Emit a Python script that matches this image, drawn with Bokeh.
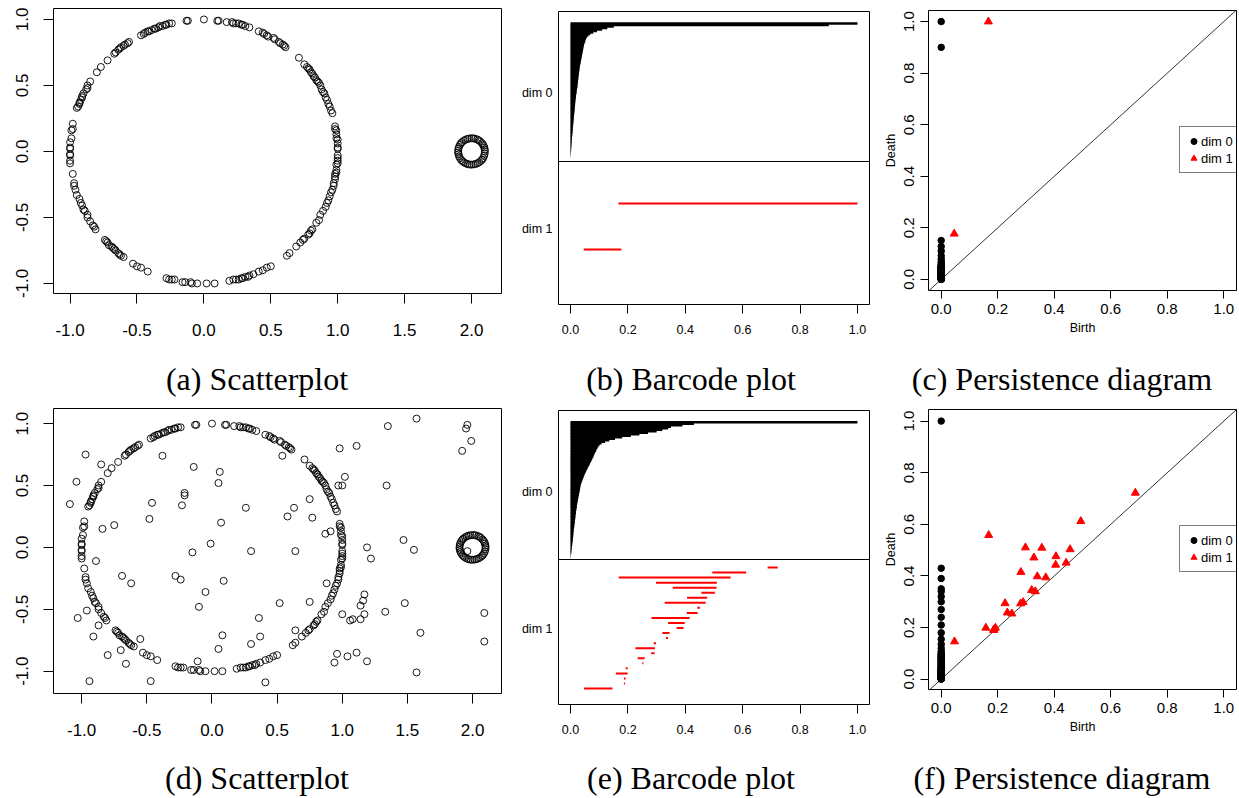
import numpy as np
from bokeh.plotting import figure
from bokeh.models import (Range1d, FixedTicker, PrintfTickFormatter, Span, Slope,
                          Legend, LegendItem)
from bokeh.layouts import column, row
from bokeh.embed import file_html
from bokeh.resources import INLINE
from bokeh.core.properties import value

# ---------------- data ----------------
# points of the large circle (shared by panels a and d)
CIRCLE_X = [0.10, 0.11, 0.17, 0.21, 0.22, 0.24, 0.26, 0.28, 0.29, 0.31, 0.34, 0.41, 0.44, 0.45, 0.47, 0.48,
            0.52, 0.53, 0.56, 0.57, 0.59, 0.60, 0.61, 0.71,
            0.75, 0.77, 0.78, 0.79, 0.80, 0.81, 0.82, 0.83, 0.84, 0.85, 0.86, 0.87, 0.88, 0.89, 0.90, 0.91,
            0.92, 0.93, 0.94, 0.95, 0.96, 0.98, 0.98, 0.99, 0.99, 0.99, 1.00, 1.00, 1.00, 1.00,
            1.00, 1.00, 1.00, 1.00, 0.99, 0.99, 0.99, 0.98, 0.98, 0.98, 0.97, 0.97, 0.96, 0.95, 0.94, 0.93,
            0.92, 0.91, 0.89, 0.87, 0.86, 0.84,
            0.81, 0.80, 0.79, 0.78, 0.75, 0.74, 0.72, 0.69, 0.64, 0.62,
            0.50, 0.47, 0.44, 0.41, 0.37, 0.34, 0.33, 0.31, 0.29, 0.28, 0.26, 0.24, 0.22, 0.19,
            0.08, 0.02,
            -0.05, -0.09, -0.10, -0.14, -0.16, -0.22, -0.24, -0.26, -0.28,
            -0.42, -0.47, -0.50, -0.53,
            -0.60, -0.62, -0.63, -0.64, -0.66, -0.67, -0.68, -0.69, -0.71, -0.72, -0.73, -0.74,
            -0.81, -0.82, -0.83, -0.85, -0.87, -0.87, -0.89, -0.90, -0.91, -0.92, -0.93, -0.95, -0.96, -0.97,
            -0.97, -0.98,
            -1.00, -1.00, -1.00, -1.00, -1.00, -1.00, -1.00, -0.99, -0.99, -0.98, -0.98,
            -0.95, -0.94, -0.93, -0.93, -0.92, -0.91, -0.91, -0.90, -0.88, -0.87, -0.87, -0.85,
            -0.80, -0.77, -0.72,
            -0.67, -0.66, -0.64, -0.63, -0.62, -0.60, -0.59, -0.57, -0.56,
            -0.47, -0.45, -0.44, -0.42, -0.41, -0.39, -0.37, -0.36, -0.34, -0.33, -0.31, -0.29, -0.28, -0.26,
            -0.24,
            -0.12, -0.13, 0.00]
CIRCLE_Y = [0.99, 0.99, 0.98, 0.98, 0.97, 0.97, 0.97, 0.96, 0.96, 0.95, 0.94, 0.91, 0.90, 0.89, 0.88, 0.87,
            0.86, 0.85, 0.83, 0.82, 0.81, 0.80, 0.79, 0.71,
            0.66, 0.64, 0.63, 0.62, 0.60, 0.59, 0.57, 0.56, 0.54, 0.53, 0.52, 0.50, 0.47, 0.45, 0.44, 0.41,
            0.39, 0.36, 0.34, 0.31, 0.29, 0.19, 0.17, 0.16, 0.13, 0.10, 0.09, 0.06, 0.03, 0.02,
            -0.03, -0.05, -0.07, -0.09, -0.10, -0.14, -0.16, -0.17, -0.19, -0.21, -0.24, -0.26, -0.29, -0.31,
            -0.34, -0.37, -0.39, -0.42, -0.45, -0.48, -0.52, -0.54,
            -0.59, -0.60, -0.62, -0.63, -0.66, -0.67, -0.69, -0.72, -0.77, -0.79,
            -0.87, -0.88, -0.90, -0.91, -0.93, -0.94, -0.95, -0.95, -0.96, -0.96, -0.97, -0.97, -0.97, -0.98,
            -1.00, -1.00,
            -1.00, -1.00, -0.99, -0.99, -0.99, -0.97, -0.97, -0.97, -0.96,
            -0.91, -0.88, -0.87, -0.85,
            -0.80, -0.79, -0.78, -0.77, -0.75, -0.74, -0.73, -0.72, -0.71, -0.69, -0.68, -0.67,
            -0.59, -0.57, -0.56, -0.53, -0.50, -0.48, -0.45, -0.44, -0.41, -0.39, -0.36, -0.33, -0.29, -0.26,
            -0.24, -0.17,
            -0.09, -0.07, -0.03, -0.02, 0.02, 0.03, 0.07, 0.10, 0.16, 0.17, 0.21,
            0.33, 0.34, 0.36, 0.37, 0.39, 0.41, 0.42, 0.44, 0.47, 0.48, 0.50, 0.53,
            0.60, 0.64, 0.69,
            0.74, 0.75, 0.77, 0.78, 0.79, 0.80, 0.81, 0.82, 0.83,
            0.88, 0.89, 0.90, 0.91, 0.91, 0.92, 0.93, 0.93, 0.94, 0.95, 0.95, 0.96, 0.96, 0.97,
            0.97,
            0.99, 0.99, 1.00]

# points of the small circle around (2, 0)
RING_X = [2.100, 2.099, 2.096, 2.091, 2.084, 2.077, 2.064, 2.053, 2.042, 2.026, 2.014, 2.000, 1.983, 1.969,
          1.955, 1.943, 1.929, 1.921, 1.913, 1.906, 1.902, 1.900, 1.900, 1.903, 1.907, 1.913, 1.923, 1.933,
          1.944, 1.958, 1.971, 1.986, 2.000, 2.017, 2.031, 2.045, 2.057, 2.071, 2.079, 2.087, 2.094, 2.098]
RING_Y = [0.000, 0.014, 0.029, 0.042, 0.054, 0.064, 0.077, 0.085, 0.091, 0.097, 0.099, 0.100, 0.098, 0.095,
          0.089, 0.082, 0.071, 0.062, 0.050, 0.034, 0.021, 0.005, -0.009, -0.022, -0.037, -0.050, -0.064,
          -0.074, -0.083, -0.091, -0.096, -0.099, -0.100, -0.098, -0.095, -0.089, -0.082, -0.071, -0.062,
          -0.050, -0.034, -0.017]

# scattered noise points added in panel d
NOISE_X = [-1.09, -1.04, -0.97, -0.85, -0.84, -0.75, -0.89, -0.69, -0.62, -1.03, -0.96, -0.87, -0.91, -0.80,
           -0.70, -0.66, -0.55, -0.94, -0.47, -0.46, -0.48, -0.38, -0.23, -0.21, -0.21, -0.14, -0.15, -0.28,
           -0.24, -0.05, -0.10, -0.01, -0.11, 0.06, 0.05, 0.07, 0.09, 0.08, 0.05, 0.26, 0.30, 0.30, 0.37,
           0.36, 0.41, 0.52, 0.54, 0.58, 0.63, 0.64, 0.64, 0.75, 0.77, 0.75, 0.87, 0.91, 0.88, 0.98, 0.97,
           1.00, 1.02, 1.00, 0.96, 0.94, 1.04, 1.11, 1.06, 1.08, 1.14, 1.11, 1.19, 1.22, 1.14, 1.16, 1.17,
           1.17, 1.19, 1.35, 1.34, 1.33, 1.47, 1.55, 1.48, 1.60, 1.57, 1.57, 1.92, 1.95, 1.96, 1.99, 1.96,
           2.09, 2.09]
NOISE_Y = [0.35, 0.53, 0.75, 0.67, 0.15, 0.18, -0.11, -0.23, -0.29, -0.57, -0.51, -0.63, -0.72, -0.87,
           -0.83, -0.94, -0.74, -1.08, -1.08, 0.36, 0.23, 0.74, 0.34, 0.44, 0.42, 0.65, -0.04, -0.23,
           -0.26, -0.36, -0.48, 0.03, -0.92, 0.61, 0.52, 0.20, -0.27, -0.71, -0.82, 0.32, -0.03, -0.78, -0.72,
           -0.57, -1.09, -0.45, 0.74, 0.25, 0.32, -0.03, -0.67, 0.39, 0.24, -0.44, 0.11, 0.13, -0.29, 0.80, 0.50,
           0.50, 0.57, -0.54, -0.86, -0.93, -0.88, 0.82, -0.59, -0.58, -0.58, -0.85, 0.00, -0.09, -0.47, -0.43,
           -0.38, -0.54, -0.92, 0.98, 0.50, -0.52, 0.06, -0.02, -0.45, -0.69, 1.04, -1.01, 0.78, 0.96, 0.99,
           0.86, -0.03, -0.53, -0.76]

SCATTER_X_TICKS = [-1.0, -0.5, 0.0, 0.5, 1.0, 1.5, 2.0]
SCATTER_Y_TICKS = [-1.0, -0.5, 0.0, 0.5, 1.0]
UNIT_TICKS = [0.0, 0.2, 0.4, 0.6, 0.8, 1.0]

# persistence of the circle data (panels b, c)
A_DIM0_DEATH = [1.0, 0.90, 0.151, 0.128, 0.11, 0.092, 0.079, 0.069, 0.062, 0.057, 0.054, 0.052, 0.051, 0.049,
                0.047, 0.046, 0.045, 0.044, 0.043, 0.042, 0.041, 0.040, 0.039, 0.038, 0.037, 0.036, 0.035,
                0.034, 0.033, 0.032, 0.031, 0.031, 0.030, 0.029, 0.029, 0.028, 0.027, 0.027, 0.026, 0.026,
                0.025, 0.024, 0.024, 0.023, 0.022, 0.021, 0.021, 0.020, 0.019, 0.019, 0.018, 0.017, 0.017,
                0.016, 0.016, 0.015, 0.015, 0.014, 0.014, 0.013, 0.013, 0.012, 0.012, 0.011, 0.011, 0.010,
                0.010, 0.009, 0.009, 0.008, 0.008, 0.0075, 0.007, 0.0065, 0.006, 0.0055, 0.005, 0.0045,
                0.004, 0.0038, 0.0035, 0.003, 0.0027, 0.0024, 0.002, 0.0017, 0.0014, 0.001, 0.0007, 0.0004,
                0.0001]
A_DIM0_BIRTH = [0.0] * len(A_DIM0_DEATH)
A_DIM1_BIRTH = [0.167, 0.046]
A_DIM1_DEATH = [1.0, 0.177]

# persistence of the noisy data (panels e, f)
D_DIM0_DEATH = [1.0, 0.43, 0.39, 0.35, 0.34, 0.32, 0.30, 0.27, 0.24, 0.21, 0.18, 0.155, 0.135, 0.12, 0.108,
                0.101, 0.097, 0.094, 0.091, 0.089, 0.086, 0.083, 0.081, 0.079, 0.076, 0.074, 0.071, 0.068,
                0.066, 0.063, 0.060, 0.058, 0.055, 0.053, 0.050, 0.048, 0.046, 0.044, 0.042, 0.040, 0.038,
                0.036, 0.035, 0.034, 0.033, 0.032, 0.031, 0.030, 0.029, 0.028, 0.027, 0.026, 0.025, 0.024,
                0.023, 0.022, 0.022, 0.021, 0.020, 0.019, 0.019, 0.018, 0.017, 0.017, 0.016, 0.015, 0.015,
                0.014, 0.013, 0.013, 0.012, 0.011, 0.011, 0.010, 0.010, 0.009, 0.009, 0.008, 0.008, 0.007,
                0.006, 0.006, 0.005, 0.004, 0.004, 0.003, 0.003, 0.002, 0.001, 0.0007, 0.0003]
D_DIM0_BIRTH = [0.0] * len(D_DIM0_DEATH)
D_DIM1_BIRTH = [0.687, 0.494, 0.168, 0.298, 0.356, 0.456, 0.406, 0.328, 0.442, 0.405, 0.282, 0.340, 0.370,
                0.320, 0.333, 0.290, 0.226, 0.281, 0.234, 0.250, 0.192, 0.158, 0.186, 0.186, 0.047]
D_DIM1_DEATH = [0.722, 0.612, 0.558, 0.510, 0.509, 0.503, 0.476, 0.471, 0.451, 0.443, 0.415, 0.398, 0.394,
                0.345, 0.340, 0.298, 0.294, 0.293, 0.258, 0.254, 0.199, 0.199, 0.192, 0.190, 0.146]

DIM_LABELS = ["dim 0", "dim 1"]
CAPTIONS_TOP = ["(a) Scatterplot", "(b) Barcode plot", "(c) Persistence diagram"]
CAPTIONS_BOTTOM = ["(d) Scatterplot", "(e) Barcode plot", "(f) Persistence diagram"]

# ---------------- styling ----------------
SANS = "Liberation Sans"
SERIF = "Liberation Serif"
INK = "black"
RED = "#ff0000"


def base_fig(w, h, bl, br, bt, bb, xr, yr):
    p = figure(width=w, height=h, x_range=Range1d(*xr), y_range=Range1d(*yr),
               output_backend="svg", toolbar_location=None, frame_align=False,
               min_border_left=bl, min_border_right=br, min_border_top=bt, min_border_bottom=bb)
    p.grid.visible = False
    p.outline_line_color = INK
    p.outline_line_width = 1
    p.outline_line_alpha = 1.0
    p.border_fill_color = "white"
    p.background_fill_color = "white"
    return p


def style_axis(ax, ticks, size, tick_out, standoff, vertical=False):
    ax.ticker = FixedTicker(ticks=ticks, minor_ticks=[])
    ax.formatter = PrintfTickFormatter(format="%.1f")
    ax.axis_line_color = None
    ax.major_tick_in = 0
    ax.major_tick_out = tick_out
    ax.major_tick_line_color = INK
    ax.minor_tick_line_color = None
    ax.major_label_text_font = SANS
    ax.major_label_text_font_size = size
    ax.major_label_text_color = INK
    ax.major_label_standoff = standoff
    if vertical:
        ax.major_label_orientation = "vertical"


def scatter_panel(xs, ys, h, bt, bb, xr, yr):
    p = base_fig(516, h, 53, 15, bt, bb, xr, yr)
    p.scatter(xs, ys, marker="circle", size=7, fill_color=None, line_color=INK, line_width=0.9)
    style_axis(p.xaxis[0], SCATTER_X_TICKS, "17px", 10, 20)
    style_axis(p.yaxis[0], SCATTER_Y_TICKS, "17px", 10, 15, vertical=True)
    return p


def barcode_panel(d0_birth, d0_death, d1_birth, d1_death, h, bt, bb, fh,
                  d0_span, d1_span, divider, label_pos):
    p = base_fig(364, h, 42, 11, bt, bb, (-0.042, 1.042), (fh, 0))
    o0 = np.argsort(-np.asarray(d0_death), kind="stable")
    o1 = np.argsort(-np.asarray(d1_death), kind="stable")
    y0 = np.linspace(d0_span[0], d0_span[1], len(d0_death))
    y1 = np.linspace(d1_span[0], d1_span[1], len(d1_death))
    p.segment(x0=np.asarray(d0_birth)[o0], y0=y0, x1=np.asarray(d0_death)[o0], y1=y0,
              line_color=INK, line_width=2.4)
    p.segment(x0=np.asarray(d1_birth)[o1], y0=y1, x1=np.asarray(d1_death)[o1], y1=y1,
              line_color=RED, line_width=2)
    p.add_layout(Span(location=divider, dimension="width", line_color=INK, line_width=1))
    style_axis(p.xaxis[0], UNIT_TICKS, "12.5px", 9, 11)
    ya = p.yaxis[0]
    ya.ticker = FixedTicker(ticks=label_pos, minor_ticks=[])
    ya.major_label_overrides = {label_pos[0]: DIM_LABELS[0], label_pos[1]: DIM_LABELS[1]}
    ya.axis_line_color = None
    ya.major_tick_line_color = None
    ya.major_tick_out = 0
    ya.major_tick_in = 0
    ya.minor_tick_line_color = None
    ya.major_label_text_font = SANS
    ya.major_label_text_font_size = "12.5px"
    ya.major_label_text_color = INK
    ya.major_label_standoff = 6
    return p


def diagram_panel(d0_birth, d0_death, d1_birth, d1_death, h, bt, bb, yr):
    p = base_fig(357, h, 44, 1, bt, bb, (-0.045, 1.045), yr)
    p.add_layout(Slope(gradient=1, y_intercept=0, line_color="#333333", line_width=1, level="underlay"))
    r0 = p.scatter(d0_birth, d0_death, marker="circle", size=6.5, color=INK)
    r1 = p.scatter(d1_birth, d1_death, marker="triangle", size=8, color=RED)
    style_axis(p.xaxis[0], UNIT_TICKS, "15px", 8, 5)
    style_axis(p.yaxis[0], UNIT_TICKS, "15px", 8, 6, vertical=True)
    for ax, lab in ((p.xaxis[0], "Birth"), (p.yaxis[0], "Death")):
        ax.axis_label = lab
        ax.axis_label_text_font = SANS
        ax.axis_label_text_font_size = "12.5px"
        ax.axis_label_text_font_style = "normal"
        ax.axis_label_text_color = INK
        ax.axis_label_standoff = 4
    legend = Legend(items=[LegendItem(label=DIM_LABELS[0], renderers=[r0]),
                           LegendItem(label=DIM_LABELS[1], renderers=[r1])],
                    location=(251, 117), orientation="vertical", margin=0, padding=6, spacing=1,
                    glyph_width=15, glyph_height=16, label_height=16, label_standoff=0,
                    label_text_font=SANS, label_text_font_size="13px", label_text_color=INK,
                    border_line_color=INK, border_line_width=1,
                    background_fill_color="white", background_fill_alpha=1.0)
    p.add_layout(legend)
    return p


def caption_strip(h, y_top, y_bottom, middle, captions):
    p = figure(width=1237, height=h, x_range=Range1d(0, 1237), y_range=Range1d(y_bottom, y_top),
               output_backend="svg", toolbar_location=None, x_axis_type=None, y_axis_type=None,
               min_border=0, frame_align=False)
    p.grid.visible = False
    p.outline_line_color = None
    p.text(x=[256.5, 690.5, 1061.5], y=[middle] * 3, text=captions,
           text_font=value(SERIF), text_font_size="32px", text_color=INK,
           text_align="center", text_baseline="middle")
    return p


# ---------------- panels ----------------
pa = scatter_panel(CIRCLE_X + RING_X, CIRCLE_Y + RING_Y, 345, 8, 52,
                   (-1.124, 2.224), (-1.076, 1.083))
pb = barcode_panel(A_DIM0_BIRTH, A_DIM0_DEATH, A_DIM1_BIRTH, A_DIM1_DEATH, 345, 11, 41, 293,
                   (12, 147), (192, 238), 150, [81, 217])
pc = diagram_panel(A_DIM0_BIRTH, A_DIM0_DEATH, A_DIM1_BIRTH, A_DIM1_DEATH, 345, 10, 55, (-0.043, 1.043))

pd = scatter_panel(CIRCLE_X + RING_X + NOISE_X, CIRCLE_Y + RING_Y + NOISE_Y, 345, 8, 52,
                   (-1.216, 2.222), (-1.18, 1.122))
pe = barcode_panel(D_DIM0_BIRTH, D_DIM0_DEATH, D_DIM1_BIRTH, D_DIM1_DEATH, 345, 10, 41, 294,
                   (11.7, 147.7), (157, 278), 149, [81, 218])
pf = diagram_panel(D_DIM0_BIRTH, D_DIM0_DEATH, D_DIM1_BIRTH, D_DIM1_DEATH, 345, 9, 56, (-0.04, 1.045))

cap1 = caption_strip(55, 345, 400, 378, CAPTIONS_TOP)
cap2 = caption_strip(51, 745, 796, 777, CAPTIONS_BOTTOM)

layout = column(row(pa, pb, pc, spacing=0), cap1, row(pd, pe, pf, spacing=0), cap2, spacing=0)

open("out.html", "w").write(file_html(layout, INLINE, title="Persistence"))
